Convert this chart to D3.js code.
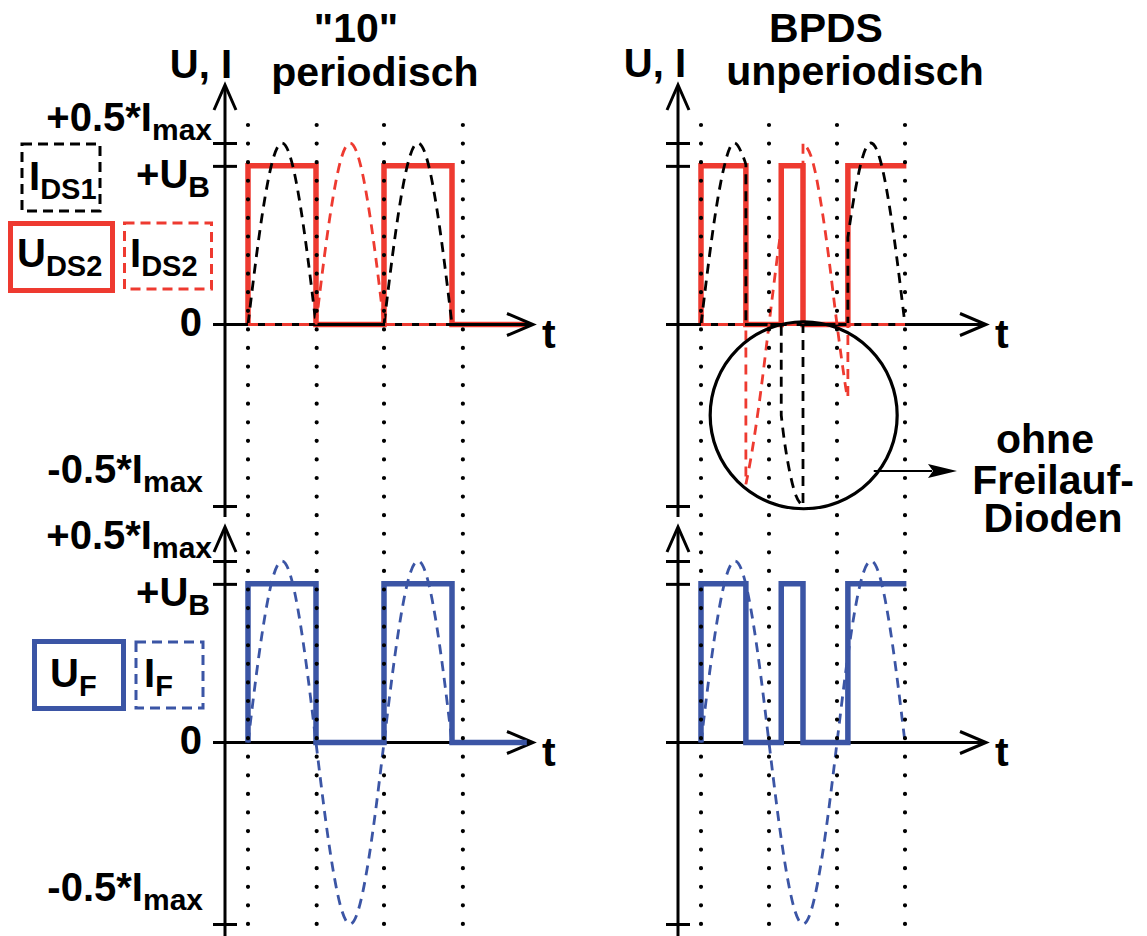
<!DOCTYPE html>
<html>
<head>
<meta charset="utf-8">
<script src="https://cdn.jsdelivr.net/npm/d3@7"></script>
<style>
  body { margin: 0; background: #fff; }
  svg { display: block; }
  text { font-family: "Liberation Sans", Arial, Helvetica, sans-serif; font-weight: bold; fill: #000; }
</style>
</head>
<body>
<svg id="chart" width="1147" height="936"></svg>
<script>
// values in units of Imax, time in half periods of the load current
const UB = 0.437;
const tickValues = [-0.5, UB, 0.5];
const labelValues = [0.5, UB, 0, -0.5];
const labelMain = ['+0.5*I', '+U', '0', '-0.5*I'];
const labelSub = ['max', 'B', '', 'max'];

const leftGuides = [0, 1.01, 2, 3.16];
const rightGuides = [0, 1, 2, 3];

// switch voltage / load voltage (square waves)
const leftU = [[0, 0], [0, UB], [1, UB], [1, 0], [2, 0], [2, UB], [3, UB], [3, 0], [4.1, 0]];
const rightU = [[0, 0], [0, UB], [0.66, UB], [0.66, 0], [1.18, 0], [1.18, UB], [1.5, UB], [1.5, 0],
  [2.16, 0], [2.16, UB], [3.02, UB]];

// load current I_F (same in both panels)
const iF = [[[0, 0], [0.125, 0.19], [0.25, 0.35], [0.375, 0.46], [0.5, 0.5], [0.625, 0.46], [0.75, 0.35], [0.875, 0.19], [1, 0],
  [1.125, -0.19], [1.25, -0.35], [1.375, -0.46], [1.5, -0.5], [1.625, -0.46], [1.75, -0.35], [1.875, -0.19], [2, 0],
  [2.125, 0.19], [2.25, 0.35], [2.375, 0.46], [2.5, 0.5], [2.625, 0.46], [2.75, 0.35], [2.875, 0.19], [3, 0]]];

// "10" periodisch
const leftIds1 = [
  [[0, 0], [0.125, 0.19], [0.25, 0.35], [0.375, 0.46], [0.5, 0.5], [0.625, 0.46], [0.75, 0.35], [0.875, 0.19], [1, 0]],
  [[1, 0], [2, 0]],
  [[2, 0], [2.125, 0.19], [2.25, 0.35], [2.375, 0.46], [2.5, 0.5], [2.625, 0.46], [2.75, 0.35], [2.875, 0.19], [3, 0]]
];
const leftIds2 = [
  [[0, 0], [1, 0]],
  [[1, 0], [1.125, 0.19], [1.25, 0.35], [1.375, 0.46], [1.5, 0.5], [1.625, 0.46], [1.75, 0.35], [1.875, 0.19], [2, 0]],
  [[2, 0], [3, 0]]
];

// BPDS unperiodisch, ohne Freilaufdioden
const rightIds1 = [
  [[0, 0], [0.125, 0.19], [0.25, 0.35], [0.375, 0.46], [0.5, 0.5], [0.625, 0.46], [0.66, 0.44]],
  [[0.66, 0.44], [0.66, 0]],
  [[0.66, 0], [1.18, 0]],
  [[1.18, 0], [1.18, -0.25]],
  [[1.18, -0.25], [1.25, -0.35], [1.375, -0.46], [1.5, -0.5]],
  [[1.5, -0.5], [1.5, 0]],
  [[1.5, 0], [2.16, 0]],
  [[2.16, 0], [2.16, 0.24]],
  [[2.16, 0.24], [2.25, 0.35], [2.375, 0.46], [2.5, 0.5], [2.625, 0.46], [2.75, 0.35], [2.875, 0.19], [3, 0]]
];
const rightIds2 = [
  [[0, 0], [0.66, 0]],
  [[0.66, 0], [0.66, -0.44]],
  [[0.66, -0.44], [0.75, -0.35], [0.875, -0.19], [1, 0], [1.125, 0.19], [1.18, 0.26]],
  [[1.18, 0.26], [1.18, 0]],
  [[1.18, 0], [1.5, 0]],
  [[1.5, 0], [1.5, 0.5]],
  [[1.5, 0.5], [1.625, 0.46], [1.75, 0.35], [1.875, 0.19], [2, 0], [2.125, -0.17], [2.16, -0.2]],
  [[2.16, -0.2], [2.16, 0]],
  [[2.16, 0], [3, 0]]
];
const circleCenter = [1.51, -0.25];
const circleRadius = 1.375;

const RED = '#ee3a30', BLUE = '#3b55a5';

const svg = d3.select('#chart');

const xL = d3.scaleLinear().domain([0, 1]).range([248, 316]);
const xR = d3.scaleLinear().domain([0, 1]).range([701, 769]);
const yT = d3.scaleLinear().domain([-0.5, 0.5]).range([506, 143]);
const yB = d3.scaleLinear().domain([-0.5, 0.5]).range([924, 561]);

function wave(x, y, pieces) {
  const gen = d3.line().x(d => x(d[0])).y(d => y(d[1])).curve(d3.curveNatural);
  return pieces.map((p, i) => {
    const d = gen(p);
    return i ? 'L' + d.slice(1) : d;
  }).join('');
}

function square(g, x, y, data, color) {
  g.append('path')
    .attr('d', d3.line().x(d => x(d[0])).y(d => y(d[1]))(data))
    .attr('fill', 'none').attr('stroke', color).attr('stroke-width', 5.5)
    .attr('stroke-linejoin', 'miter');
}

function dashed(g, x, y, pieces, color) {
  g.append('path')
    .attr('d', wave(x, y, pieces))
    .attr('fill', 'none').attr('stroke', color).attr('stroke-width', 2.8)
    .attr('stroke-dasharray', '10,7');
}

function axes(g, x, y, top, bottom) {
  const ax = x(0) - 23;
  const x0 = ax - 12, x1 = ax + 308;
  const zy = y(0);
  const a = g.append('g').attr('stroke', '#000').attr('stroke-width', 3).attr('fill', 'none');
  a.append('line').attr('x1', ax).attr('x2', ax).attr('y1', bottom).attr('y2', top + 1);
  a.append('path').attr('d', `M${ax - 11},${top + 25}L${ax},${top}L${ax + 11},${top + 25}`);
  a.append('line').attr('x1', x0).attr('x2', x1 - 1).attr('y1', zy).attr('y2', zy);
  a.append('path').attr('d', `M${x1 - 26},${zy - 11}L${x1},${zy}L${x1 - 26},${zy + 11}`);

  [d3.axisLeft(y), d3.axisRight(y)].forEach(axis => {
    g.append('g')
      .attr('transform', `translate(${ax},0)`)
      .call(axis.tickValues(tickValues).tickSize(12).tickFormat(''))
      .call(s => s.select('.domain').remove())
      .call(s => s.selectAll('line').attr('stroke', '#000').attr('stroke-width', 3));
  });

  g.append('text').attr('x', x1 + 9).attr('y', zy + 23).attr('font-size', 41).text('t');
  return ax;
}

function yLabels(g, ax, y) {
  const dyMain = [-12, 22, 11, -23];
  const dxEnd = [-13, -15, -23, -22];
  labelValues.forEach((v, i) => {
    const t = g.append('text')
      .attr('x', ax + dxEnd[i]).attr('y', y(v) + dyMain[i])
      .attr('text-anchor', 'end').attr('font-size', 40);
    t.append('tspan').text(labelMain[i]);
    if (labelSub[i]) t.append('tspan').attr('font-size', 30).attr('dy', 9).text(labelSub[i]);
  });
}

function legendBox(g, rx, ry, w, h, color, solid, main, sub, tx, ty) {
  g.append('rect').attr('x', rx).attr('y', ry).attr('width', w).attr('height', h)
    .attr('fill', 'none').attr('stroke', color)
    .attr('stroke-width', solid ? 5 : 3)
    .attr('stroke-dasharray', solid ? null : '10,6');
  const t = g.append('text').attr('x', tx).attr('y', ty).attr('font-size', 40);
  t.append('tspan').text(main);
  t.append('tspan').attr('font-size', 29).attr('dy', 9).text(sub);
}

// ---- left panels
const gl = svg.append('g');
square(gl, xL, yT, leftU, RED);
const axL = axes(gl, xL, yT, 85, 517);
dashed(gl, xL, yT, leftIds1, '#000');
dashed(gl, xL, yT, leftIds2, RED);
yLabels(gl, axL, yT);

const glb = svg.append('g');
axes(glb, xL, yB, 527, 936);
square(glb, xL, yB, leftU, BLUE);
dashed(glb, xL, yB, iF, BLUE);
yLabels(glb, axL, yB);

// ---- right panels
const gr = svg.append('g');
square(gr, xR, yT, rightU, RED);
const axR = axes(gr, xR, yT, 85, 517);
dashed(gr, xR, yT, rightIds1, '#000');
dashed(gr, xR, yT, rightIds2, RED);

const grb = svg.append('g');
axes(grb, xR, yB, 527, 936);
square(grb, xR, yB, rightU, BLUE);
dashed(grb, xR, yB, iF, BLUE);

// guide dots
[[xL, leftGuides], [xR, rightGuides]].forEach(([x, guides]) => {
  svg.append('g').selectAll('line').data(guides).join('line')
    .attr('x1', d => x(d)).attr('x2', d => x(d))
    .attr('y1', 125).attr('y2', 940)
    .attr('stroke', '#000').attr('stroke-width', 4.2)
    .attr('stroke-linecap', 'round').attr('stroke-dasharray', '0,18.58');
});

// circle annotation
const cx = xR(circleCenter[0]), cy = yT(circleCenter[1]);
const r = xR(circleRadius) - xR(0);
svg.append('circle').attr('cx', cx).attr('cy', cy).attr('r', r)
  .attr('fill', 'none').attr('stroke', '#000').attr('stroke-width', 3.2);
const ay = 471;
const axStart = cx + Math.sqrt(r * r - (ay - cy) * (ay - cy)) - 5;
svg.append('line').attr('x1', axStart).attr('x2', 932).attr('y1', ay).attr('y2', ay)
  .attr('stroke', '#000').attr('stroke-width', 2.2);
svg.append('path').attr('d', `M928,${ay - 7}L957,${ay}L928,${ay + 7}L933,${ay}Z`).attr('fill', '#000');
[['ohne', 1045, 453], ['Freilauf-', 1053, 494], ['Dioden', 1053, 532]].forEach(([s, x, y]) => {
  svg.append('text').attr('x', x).attr('y', y).attr('text-anchor', 'middle').attr('font-size', 41).text(s);
});

// titles
[['"10"', 356, 42], ['periodisch', 375, 86], ['BPDS', 826, 42], ['unperiodisch', 855, 85]].forEach(([s, x, y]) => {
  svg.append('text').attr('x', x).attr('y', y).attr('text-anchor', 'middle').attr('font-size', 41).text(s);
});
[[axL + 7, 78], [axR + 8, 77]].forEach(([x, y]) => {
  svg.append('text').attr('x', x).attr('y', y).attr('text-anchor', 'end').attr('font-size', 40).text('U, I');
});

// legends
const lg = svg.append('g');
legendBox(lg, 22, 144, 78, 67, '#000', false, 'I', 'DS1', 29, 190);
legendBox(lg, 10.5, 223.5, 102, 67, RED, true, 'U', 'DS2', 17, 267);
legendBox(lg, 124.5, 223, 87, 66, RED, false, 'I', 'DS2', 130, 267);
legendBox(lg, 34.5, 641.5, 89, 67, BLUE, true, 'U', 'F', 50, 687);
legendBox(lg, 136, 642, 67, 66, BLUE, false, 'I', 'F', 144, 687);
</script>
</body>
</html>
